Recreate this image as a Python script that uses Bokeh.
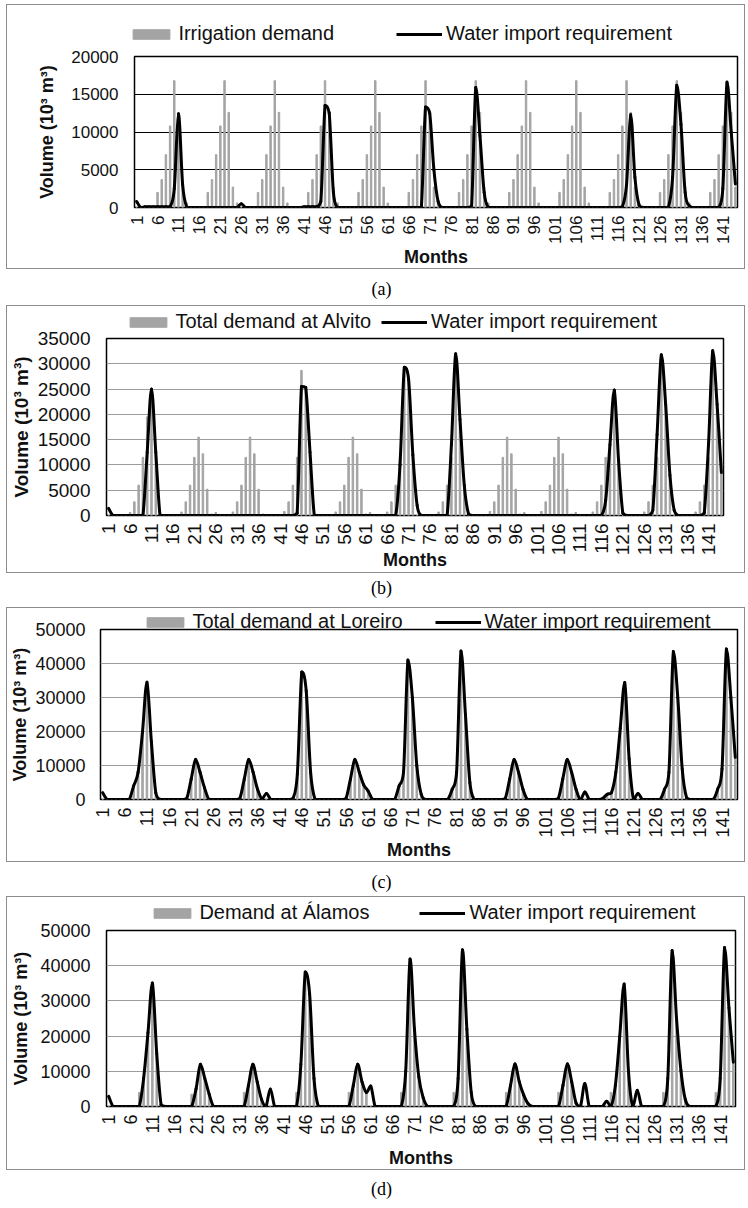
import math
from bokeh.plotting import figure
from bokeh.models import Range1d, FixedTicker, Legend, LegendItem, Label
from bokeh.layouts import column
from bokeh.embed import file_html
from bokeh.resources import INLINE

# ---------------- data (monthly values, 10^3 m3) ----------------
MONTHS = list(range(1, 145))
X_TICKS = [1, 6, 11, 16, 21, 26, 31, 36, 41, 46, 51, 56, 61, 66, 71, 76, 81, 86,
           91, 96, 101, 106, 111, 116, 121, 126, 131, 136, 141]

A_DEMAND = [
    0, 0, 0, 0, 0, 2000, 3700, 7000, 10800, 16800, 12600, 2700,
    600, 0, 0, 0, 0, 2000, 3700, 7000, 10800, 16800, 12600, 2700,
    600, 0, 0, 0, 0, 2000, 3700, 7000, 10800, 16800, 12600, 2700,
    600, 0, 0, 0, 0, 2000, 3700, 7000, 10800, 16800, 12600, 2700,
    600, 0, 0, 0, 0, 2000, 3700, 7000, 10800, 16800, 12600, 2700,
    600, 0, 0, 0, 0, 2000, 3700, 7000, 10800, 16800, 12600, 2700,
    600, 0, 0, 0, 0, 2000, 3700, 7000, 10800, 16800, 12600, 2700,
    600, 0, 0, 0, 0, 2000, 3700, 7000, 10800, 16800, 12600, 2700,
    600, 0, 0, 0, 0, 2000, 3700, 7000, 10800, 16800, 12600, 2700,
    600, 0, 0, 0, 0, 2000, 3700, 7000, 10800, 16800, 12600, 2700,
    600, 0, 0, 0, 0, 2000, 3700, 7000, 10800, 16800, 12600, 2700,
    600, 0, 0, 0, 0, 2000, 3700, 7000, 10800, 16800, 12600, 2700,
]
A_IMPORT = [
    800, 0, 100, 100, 100, 100, 100, 100, 100, 2500, 12400, 3000,
    0, 0, 0, 0, 0, 0, 0, 0, 0, 0, 0, 0,
    0, 500, 0, 0, 0, 0, 0, 0, 0, 0, 0, 0,
    0, 0, 0, 0, 100, 100, 100, 100, 800, 13500, 12500, 2000,
    0, 0, 0, 0, 0, 0, 0, 0, 0, 0, 0, 0,
    0, 0, 0, 0, 0, 0, 0, 0, 0, 13300, 12500, 5000,
    800, 0, 0, 0, 0, 0, 0, 0, 200, 15900, 9500, 2000,
    0, 0, 0, 0, 0, 0, 0, 0, 0, 0, 0, 0,
    0, 0, 0, 0, 0, 0, 0, 0, 0, 0, 0, 0,
    0, 0, 0, 0, 0, 0, 0, 0, 100, 3000, 12300, 4000,
    300, 0, 0, 0, 0, 0, 0, 0, 4000, 16200, 11000, 2000,
    200, 0, 0, 0, 0, 0, 0, 0, 2500, 16600, 10000, 3100,
]

B_DEMAND = [
    0, 0, 0, 0, 0, 600, 2700, 6000, 11500, 19500, 25000, 12000,
    0, 0, 0, 0, 0, 700, 2700, 6000, 11500, 15500, 12200, 5200,
    300, 600, 0, 0, 0, 700, 2700, 6000, 11500, 15500, 12200, 5200,
    300, 0, 0, 0, 0, 800, 2700, 6000, 11500, 28700, 25000, 12000,
    0, 0, 0, 0, 0, 700, 2700, 6000, 11500, 15500, 12200, 5200,
    300, 600, 0, 0, 0, 700, 2700, 6000, 11500, 29000, 27000, 12000,
    0, 0, 0, 0, 0, 700, 2700, 6000, 11500, 32000, 19000, 6000,
    0, 0, 0, 0, 0, 800, 2700, 6000, 11500, 15500, 12200, 5200,
    300, 600, 0, 0, 0, 800, 2700, 6000, 11500, 15500, 12200, 5200,
    300, 600, 0, 0, 0, 700, 2700, 6000, 11500, 14000, 24800, 11000,
    0, 0, 0, 0, 0, 700, 2700, 6000, 11500, 31800, 22000, 8000,
    0, 0, 0, 0, 0, 700, 2700, 6000, 11500, 32600, 22000, 8500,
]
B_IMPORT = [
    1400, 0, 0, 0, 0, 0, 0, 0, 0, 12500, 25000, 12500,
    0, 0, 0, 0, 0, 0, 0, 0, 0, 0, 0, 0,
    0, 0, 0, 0, 0, 0, 0, 0, 0, 0, 0, 0,
    0, 0, 0, 0, 0, 0, 0, 0, 500, 25500, 25300, 12500,
    0, 0, 0, 0, 0, 0, 0, 0, 0, 0, 0, 0,
    0, 0, 0, 0, 0, 0, 0, 0, 10000, 29300, 27000, 12000,
    2000, 0, 0, 0, 0, 0, 0, 0, 14000, 32000, 19000, 6000,
    300, 0, 0, 0, 0, 0, 0, 0, 0, 0, 0, 0,
    0, 0, 0, 0, 0, 0, 0, 0, 0, 0, 0, 0,
    0, 0, 0, 0, 0, 0, 0, 0, 3000, 14000, 24800, 11000,
    500, 0, 0, 0, 0, 0, 0, 1000, 16000, 31800, 22000, 8000,
    1000, 0, 0, 0, 0, 0, 0, 500, 14000, 32600, 22000, 8500,
]

C_DEMAND = [
    0, 0, 0, 0, 0, 0, 0, 4000, 8000, 20000, 34500, 17000,
    2000, 0, 0, 0, 0, 0, 0, 300, 6000, 11800, 8000, 3500,
    0, 0, 0, 0, 0, 0, 0, 300, 6000, 11800, 8000, 3000,
    0, 0, 0, 0, 0, 0, 0, 300, 7500, 37500, 32000, 8000,
    0, 0, 0, 0, 0, 0, 0, 300, 6000, 11800, 8000, 4300,
    2500, 0, 0, 0, 0, 0, 0, 4000, 8000, 41000, 30000, 10000,
    1500, 0, 0, 0, 0, 0, 0, 3000, 8000, 43700, 25000, 5000,
    0, 0, 0, 0, 0, 0, 0, 300, 6000, 11800, 8000, 3000,
    0, 0, 0, 0, 0, 0, 0, 300, 6000, 11800, 8000, 3000,
    0, 0, 0, 0, 0, 0, 1500, 2000, 8000, 21000, 34400, 12000,
    0, 0, 0, 0, 0, 0, 0, 3000, 8000, 43500, 30000, 9000,
    500, 0, 0, 0, 0, 0, 0, 3000, 9000, 44300, 30000, 12400,
]
C_IMPORT = [
    2000, 0, 0, 0, 0, 0, 0, 4000, 8000, 20000, 34500, 17000,
    2000, 0, 0, 0, 0, 0, 0, 300, 6000, 11800, 8000, 3500,
    0, 0, 0, 0, 0, 0, 0, 300, 6000, 11800, 8000, 3000,
    200, 1800, 0, 0, 0, 0, 0, 300, 7500, 37500, 32000, 8000,
    0, 0, 0, 0, 0, 0, 0, 300, 6000, 11800, 8000, 4300,
    2500, 0, 0, 0, 0, 0, 0, 4000, 8000, 41000, 30000, 10000,
    1500, 0, 0, 0, 0, 0, 0, 3000, 8000, 43700, 25000, 5000,
    0, 0, 0, 0, 0, 0, 0, 300, 6000, 11800, 8000, 3000,
    0, 0, 0, 0, 0, 0, 0, 300, 6000, 11800, 8000, 3000,
    0, 2200, 0, 0, 0, 300, 1500, 2000, 8000, 21000, 34400, 12000,
    0, 1800, 0, 0, 0, 0, 0, 3000, 8000, 43500, 30000, 9000,
    500, 0, 0, 0, 0, 0, 0, 3000, 9000, 44300, 30000, 12400,
]

D_DEMAND = [
    0, 0, 0, 0, 0, 0, 0, 4000, 8000, 21000, 35100, 15000,
    500, 0, 0, 0, 0, 0, 0, 3500, 5000, 12000, 8000, 3500,
    0, 0, 0, 0, 0, 0, 0, 4000, 6000, 12000, 7000, 2000,
    0, 0, 0, 0, 0, 0, 0, 4000, 12000, 38200, 32000, 8000,
    0, 0, 0, 0, 0, 0, 0, 4000, 6000, 12000, 7000, 4000,
    0, 0, 0, 0, 0, 0, 0, 4000, 10000, 41900, 22000, 8400,
    2500, 0, 0, 0, 0, 0, 0, 4000, 8000, 44500, 22000, 4000,
    0, 0, 0, 0, 0, 0, 0, 4000, 6000, 12100, 7000, 3300,
    800, 0, 0, 0, 0, 0, 0, 4000, 6000, 12100, 7000, 1000,
    0, 0, 0, 0, 0, 0, 0, 4000, 6000, 20000, 34800, 10000,
    0, 0, 0, 0, 0, 0, 0, 4000, 8000, 44300, 25000, 10300,
    2000, 0, 0, 0, 0, 0, 0, 4000, 8000, 45200, 28000, 12600,
]
D_IMPORT = [
    2900, 0, 0, 0, 0, 0, 0, 0, 8000, 21000, 35100, 15000,
    500, 0, 0, 0, 0, 0, 0, 0, 5000, 12000, 8000, 3500,
    0, 0, 0, 0, 0, 0, 0, 0, 6000, 12000, 7000, 2000,
    0, 5000, 0, 0, 0, 0, 0, 0, 12000, 38200, 32000, 8000,
    0, 0, 0, 0, 0, 0, 0, 0, 6000, 12000, 7000, 4000,
    5800, 0, 0, 0, 0, 0, 0, 0, 10000, 41900, 22000, 8400,
    2500, 0, 0, 0, 0, 0, 0, 0, 8000, 44500, 22000, 4000,
    0, 0, 0, 0, 0, 0, 0, 0, 6000, 12100, 7000, 3300,
    800, 0, 0, 0, 0, 0, 0, 0, 6000, 12100, 7000, 1000,
    0, 6500, 0, 0, 0, 0, 1500, 0, 6000, 20000, 34800, 10000,
    0, 4600, 0, 0, 0, 0, 0, 0, 8000, 44300, 25000, 10300,
    2000, 0, 0, 0, 0, 0, 0, 0, 8000, 45200, 28000, 12600,
]

LABEL_A = "Irrigation demand"
LABEL_B = "Total demand at Alvito"
LABEL_C = "Total demand at Loreiro"
LABEL_D = "Demand at Álamos"
LABEL_LINE = "Water import requirement"
Y_TITLE = "Volume (10³ m³)"
X_TITLE = "Months"

YTICKS_A = [0, 5000, 10000, 15000, 20000]
YTICKS_B = [0, 5000, 10000, 15000, 20000, 25000, 30000, 35000]
YTICKS_CD = [0, 10000, 20000, 30000, 40000, 50000]

# ---------------- style ----------------
FONT = "Liberation Sans"
SERIF = "Liberation Serif"
BAR_COLOR = "#a4a4a4"
INK = "#111111"
BOX = "1px solid #8c8c8c"
W = 739          # inner width of each chart box (plus 1px border each side)


def no_align(fig):
    if "frame_align" in fig.properties():
        fig.frame_align = False


def smooth_segments(xs, ys):
    """Bezier control points (Excel-like smoothed line through the data points)."""
    n = len(xs)
    seg = {k: [] for k in ("x0", "y0", "x1", "y1", "cx0", "cy0", "cx1", "cy1")}
    for i in range(n - 1):
        xa, ya = xs[i], ys[i]
        xb, yb = xs[i + 1], ys[i + 1]
        xp, yp = (xs[i - 1], ys[i - 1]) if i > 0 else (xa, ya)
        xn, yn = (xs[i + 2], ys[i + 2]) if i + 2 < n else (xb, yb)
        lo, hi = min(ya, yb), max(ya, yb)
        c0 = min(max(ya + (yb - yp) / 6.0, lo), hi)
        c1 = min(max(yb - (yn - ya) / 6.0, lo), hi)
        seg["x0"].append(xa); seg["y0"].append(ya)
        seg["x1"].append(xb); seg["y1"].append(yb)
        seg["cx0"].append(xa + (xb - xp) / 6.0); seg["cy0"].append(c0)
        seg["cx1"].append(xb - (xn - xa) / 6.0); seg["cy1"].append(c1)
    return seg


def make_legend_strip(cfg):
    """Top part of the chart area holding the legend."""
    s = figure(width=W, height=cfg["strip_h"], x_range=Range1d(0.5, 144.5),
               y_range=Range1d(0, cfg["ymax"]), output_backend="svg",
               toolbar_location=None, min_border=0, title=None,
               x_axis_location=None, y_axis_location=None)
    no_align(s)
    s.styles = {"border-top": BOX, "border-left": BOX, "border-right": BOX}
    s.outline_line_color = None
    s.xgrid.visible = False
    s.ygrid.visible = False
    # legend keys (the series themselves are drawn in the chart below)
    bar_key = s.vbar(x=MONTHS, top=cfg["demand"], width=0.35, color=BAR_COLOR,
                     visible=False)
    line_key = s.line(x=MONTHS, y=cfg["import"], line_color="black", line_width=3,
                      visible=False)
    legend = Legend(items=[LegendItem(label=cfg["label"], renderers=[bar_key]),
                           LegendItem(label=LABEL_LINE, renderers=[line_key])],
                    orientation="horizontal", location=(cfg["leg_x"], cfg["leg_y"]),
                    glyph_width=46, glyph_height=12, label_standoff=4,
                    spacing=cfg["leg_spacing"], padding=0, margin=0,
                    border_line_alpha=0, background_fill_alpha=0,
                    inactive_fill_alpha=0,
                    label_text_font=FONT, label_text_font_size="20px",
                    label_text_color=INK)
    s.add_layout(legend)
    return s


def make_chart(cfg):
    fl, fr, ft, fb = cfg["borders"]
    p = figure(width=W, height=cfg["H"], x_range=Range1d(0.5, 144.5),
               y_range=Range1d(0, cfg["ymax"]), output_backend="svg",
               toolbar_location=None, title=None, min_border_left=fl,
               min_border_right=fr, min_border_top=ft, min_border_bottom=fb)
    no_align(p)
    p.styles = {"border-bottom": BOX, "border-left": BOX, "border-right": BOX}
    if cfg["overlap"]:
        p.margin = (-cfg["overlap"], 0, 0, 0)
    p.background_fill_color = None
    p.border_fill_color = None
    p.outline_line_color = "black"
    p.outline_line_width = 1.5

    xa = p.xaxis[0]
    xa.ticker = FixedTicker(ticks=X_TICKS)
    xa.major_label_orientation = math.pi / 2
    ya = p.yaxis[0]
    ya.ticker = FixedTicker(ticks=cfg["yticks"])
    for ax in (xa, ya):
        ax.axis_line_color = None
        ax.major_tick_line_color = None
        ax.minor_tick_line_color = None
        ax.major_tick_in = 0
        ax.major_tick_out = 0
        ax.minor_tick_in = 0
        ax.minor_tick_out = 0
        ax.major_label_text_font = FONT
        ax.major_label_text_font_size = "%dpx" % cfg["tick_size"]
        ax.major_label_text_color = INK
        ax.axis_label_text_font = FONT
        ax.axis_label_text_font_style = "bold"
        ax.axis_label_text_color = INK
    xa.major_label_standoff = 8
    ya.major_label_standoff = cfg["ytick_standoff"]

    xa.axis_label = X_TITLE
    xa.axis_label_text_font_size = "18px"
    xa.axis_label_standoff = cfg["x_als"]
    ya.axis_label = Y_TITLE
    ya.axis_label_text_font_size = "%dpx" % cfg["ytitle_size"]
    ya.axis_label_standoff = cfg["y_als"]

    p.xgrid.visible = False
    p.ygrid.grid_line_color = cfg["grid"]
    p.ygrid.grid_line_width = 1

    p.vbar(x=MONTHS, top=cfg["demand"], width=0.35, color=BAR_COLOR)
    seg = smooth_segments(MONTHS, cfg["import"])
    p.bezier(x0=seg["x0"], y0=seg["y0"], x1=seg["x1"], y1=seg["y1"],
             cx0=seg["cx0"], cy0=seg["cy0"], cx1=seg["cx1"], cy1=seg["cy1"],
             line_color="black", line_width=3, line_cap="round")
    return p


def make_caption(text, h, ypos):
    c = figure(width=W + 2, height=h, x_range=Range1d(0, 1), y_range=Range1d(0, 1),
               output_backend="svg", toolbar_location=None, min_border=0, title=None,
               x_axis_location=None, y_axis_location=None)
    no_align(c)
    c.outline_line_color = None
    c.xgrid.visible = False
    c.ygrid.visible = False
    c.add_layout(Label(x=0.506, y=ypos, text=text, text_align="center",
                       text_baseline="middle", text_font=SERIF,
                       text_font_size="18px", text_color="black"))
    return c


panels = [
    dict(strip_h=40, leg_x=121.4, leg_y=0, leg_spacing=62, label=LABEL_A,
         H=225, borders=(127, 9, 12, 59), overlap=0, ymax=20000, yticks=YTICKS_A,
         grid="#000000", tick_size=17, demand=A_DEMAND, **{"import": A_IMPORT},
         ytick_standoff=16, y_als=11, ytitle_size=18, x_als=0),
    dict(strip_h=28, leg_x=118.4, leg_y=1, leg_spacing=10, label=LABEL_B,
         H=247, borders=(97, 23, 12, 53), overlap=7, ymax=35000, yticks=YTICKS_B,
         grid="#9c9c9c", tick_size=19, demand=B_DEMAND, **{"import": B_IMPORT},
         ytick_standoff=16, y_als=3, ytitle_size=19, x_als=-8),
    dict(strip_h=26, leg_x=135.4, leg_y=1, leg_spacing=32, label=LABEL_C,
         H=245, borders=(90, 9, 12, 59), overlap=16, ymax=50000, yticks=YTICKS_CD,
         grid="#9c9c9c", tick_size=18, demand=C_DEMAND, **{"import": C_IMPORT},
         ytick_standoff=15, y_als=2, ytitle_size=18, x_als=-1),
    dict(strip_h=28, leg_x=142.4, leg_y=1, leg_spacing=50, label=LABEL_D,
         H=252, borders=(99, 11, 12, 60), overlap=6, ymax=50000, yticks=YTICKS_CD,
         grid="#9c9c9c", tick_size=18, demand=D_DEMAND, **{"import": D_IMPORT},
         ytick_standoff=16, y_als=6, ytitle_size=18, x_als=0),
]

captions = [("(a)", 36, 0.47), ("(b)", 34, 0.56), ("(c)", 34, 0.44), ("(d)", 30, 0.4)]

children = []
for cfg, cap in zip(panels, captions):
    children.append(make_legend_strip(cfg))
    children.append(make_chart(cfg))
    children.append(make_caption(*cap))

layout = column(*children, spacing=0, margin=(4, 0, 0, 6))

open("out.html", "w").write(file_html(layout, INLINE))
